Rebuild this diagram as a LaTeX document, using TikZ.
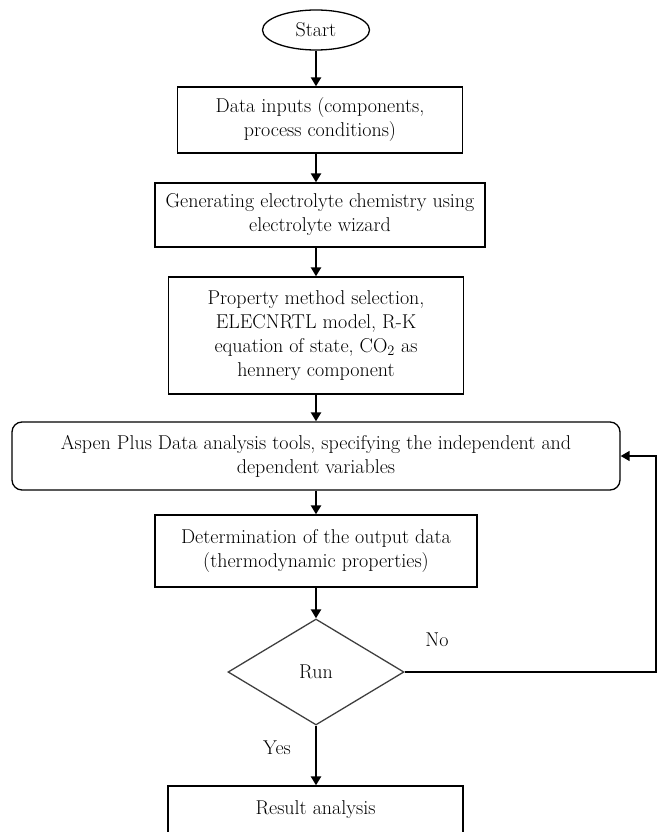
\documentclass[tikz,border=0pt]{standalone}
\usepackage{fontspec}
\usepackage{tikz}
\usetikzlibrary{shapes.geometric,arrows.meta}

\tikzset{
	box/.style={draw, line width=1.3pt, align=center, inner sep=0pt},
	arr/.style={line width=2.5pt, -{Triangle[length=9pt, width=10pt]}},
}

\begin{document}
\begin{tikzpicture}[x=1pt, y=-1pt, font=\fontsize{20}{24}\selectfont]
	\useasboundingbox (0, 0) rectangle (657, 832);

	\node [box, ellipse, minimum width=107pt, minimum height=40pt] (start) at (316, 30) {Start};
	\node [box, minimum width=285pt, minimum height=66pt] (inputs) at (320, 120)
		{Data inputs (components,\\ process conditions)};
	\node [box, minimum width=330pt, minimum height=64pt] (wizard) at (320, 215)
		{Generating electrolyte chemistry using\\ electrolyte wizard};
	\node [box, minimum width=295pt, minimum height=117pt] (property) at (316, 335.5)
		{Property method selection,\\ ELECNRTL model, R-K\\ equation of state, CO$_2$ as\\ hennery component};
	\node [box, rounded corners=10pt, minimum width=608pt, minimum height=68pt] (aspen) at (316, 456)
		{Aspen Plus Data analysis tools, specifying the independent and\\ dependent variables};
	\node [box, minimum width=322pt, minimum height=72pt] (output) at (316, 551)
		{Determination of the output data\\ (thermodynamic properties)};
	\node [box, diamond, draw=black!75, minimum width=176pt, minimum height=106pt] (run) at (316, 672) {Run};
	\node [box, minimum width=295pt, minimum height=48pt] (result) at (315.5, 810) {Result analysis};

	\node (no) at (437, 640) {No};
	\node (yes) at (277, 748) {Yes};
	\coordinate (back) at (656, 672);

	\draw [arr] (start.south) -- (start.south |- inputs.north);
	\draw [arr] (inputs.south -| start.south) -- (start.south |- wizard.north);
	\draw [arr] (wizard.south -| start.south) -- (property.north);
	\draw [arr] (property.south) -- (aspen.north);
	\draw [arr] (aspen.south) -- (output.north);
	\draw [arr] (output.south) -- (run.north);
	\draw [arr] (run.south) -- (run.south |- result.north);
	\draw [line width=1.5pt, -{Triangle[length=9pt, width=10pt]}] (run.east) -- (back) |- (aspen.east);
\end{tikzpicture}
\end{document}
